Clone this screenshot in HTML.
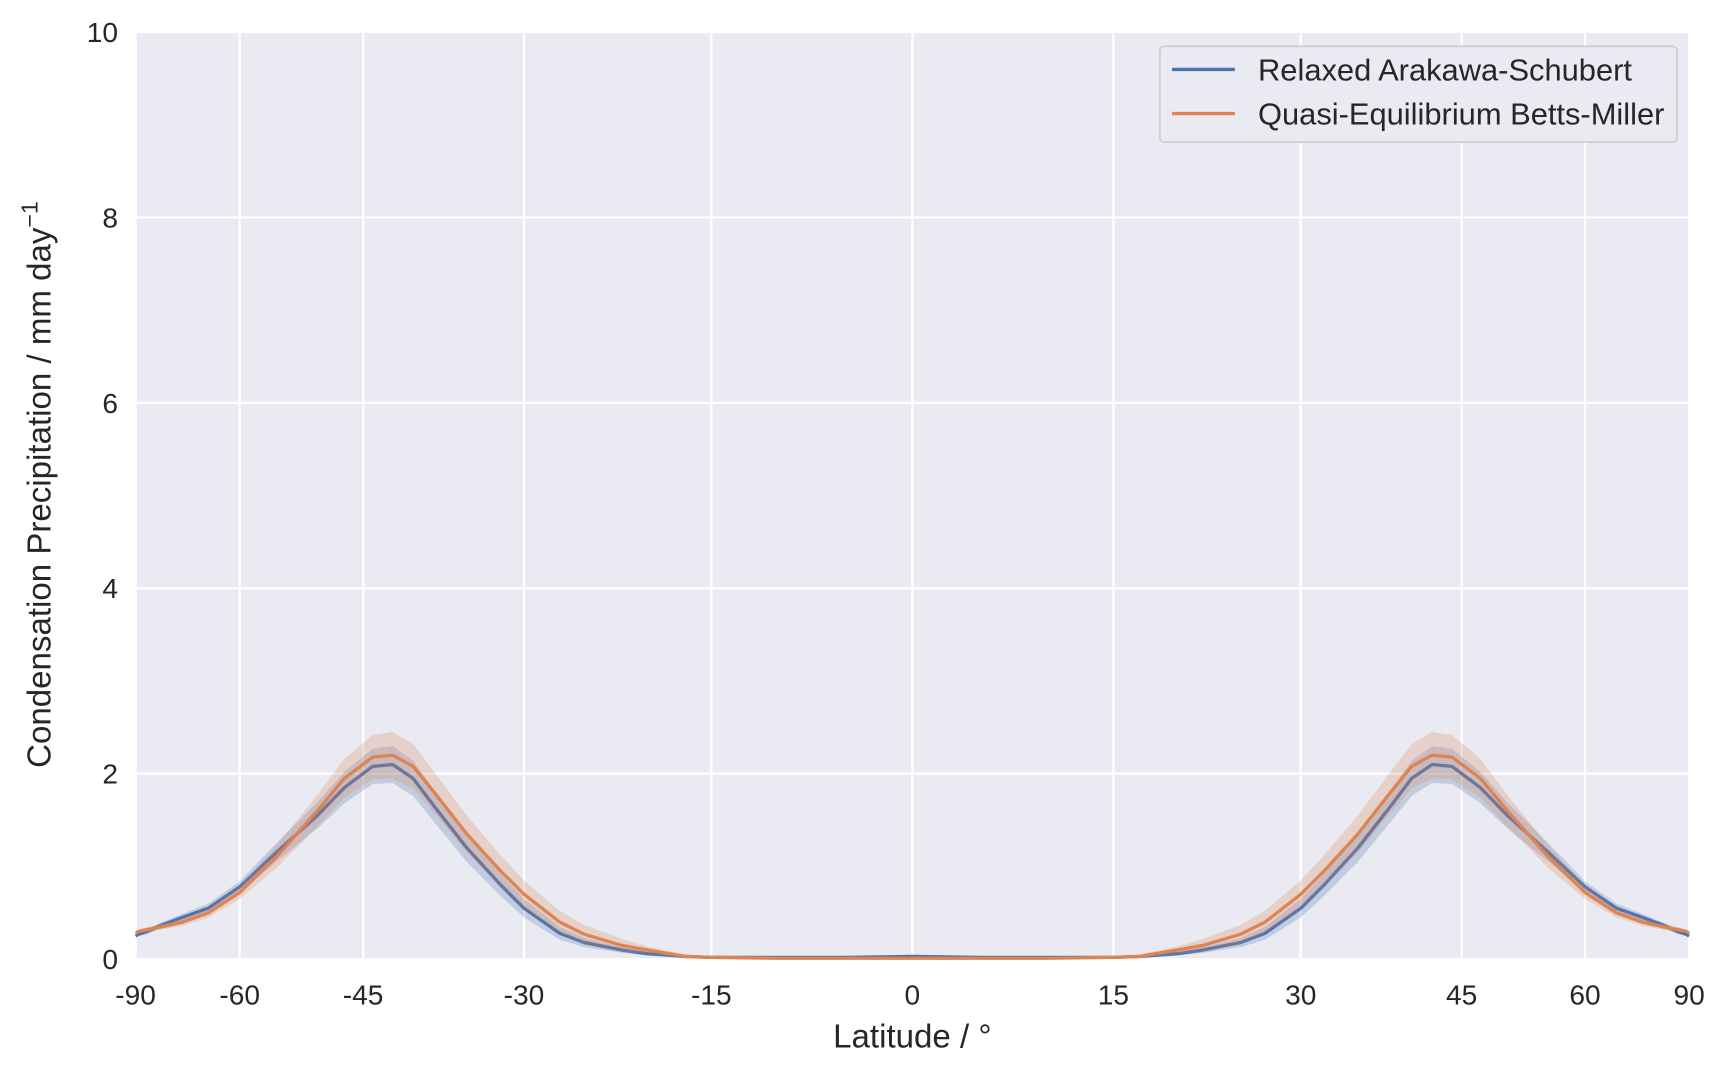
<!DOCTYPE html>
<html><head><meta charset="utf-8"><style>
body{margin:0;background:#fff;font-family:"Liberation Sans",sans-serif;}
svg{display:block;}
</style></head><body>
<svg id="chart" width="1720" height="1071" viewBox="0 0 1560 971.4" xmlns="http://www.w3.org/2000/svg" font-family="Liberation Sans, sans-serif"></svg>
<script>
const lats = [-90,-85,-80,-75,-70,-65,-60,-55,-50,-47,-44,-42,-40,-38,-35,-32,-30,-27,-25,-22,-20,-17,-15,-10,-5,0,5,10,15,17,20,22,25,27,30,32,35,38,40,42,44,47,50,55,60,65,70,75,80,85,90];
const blueVals = [0.25,0.27,0.3,0.37,0.45,0.55,0.78,1.15,1.55,1.85,2.08,2.1,1.95,1.65,1.2,0.8,0.55,0.28,0.18,0.1,0.06,0.03,0.02,0.02,0.02,0.03,0.02,0.02,0.02,0.03,0.06,0.1,0.18,0.28,0.55,0.8,1.2,1.65,1.95,2.1,2.08,1.85,1.55,1.15,0.78,0.55,0.45,0.37,0.3,0.27,0.25];
const orangeVals = [0.28,0.3,0.32,0.35,0.4,0.5,0.72,1.1,1.6,1.95,2.18,2.2,2.08,1.8,1.35,0.95,0.7,0.4,0.27,0.15,0.1,0.03,0.02,0.01,0.01,0.01,0.01,0.01,0.02,0.03,0.1,0.15,0.27,0.4,0.7,0.95,1.35,1.8,2.08,2.2,2.18,1.95,1.6,1.1,0.72,0.5,0.4,0.35,0.32,0.3,0.28];
const blueErr = [0.02,0.02,0.03,0.03,0.04,0.05,0.06,0.1,0.14,0.17,0.19,0.2,0.19,0.17,0.15,0.12,0.1,0.07,0.05,0.03,0.02,0.01,0.01,0.01,0.01,0.01,0.01,0.01,0.01,0.01,0.02,0.03,0.05,0.07,0.1,0.12,0.15,0.17,0.19,0.2,0.19,0.17,0.14,0.1,0.06,0.05,0.04,0.03,0.03,0.02,0.02];
const orangeErr = [0.02,0.02,0.03,0.03,0.04,0.05,0.07,0.12,0.17,0.21,0.24,0.25,0.24,0.22,0.2,0.17,0.15,0.12,0.1,0.07,0.04,0.02,0.01,0.01,0.01,0.01,0.01,0.01,0.01,0.02,0.04,0.07,0.1,0.12,0.15,0.17,0.2,0.22,0.24,0.25,0.24,0.21,0.17,0.12,0.07,0.05,0.04,0.03,0.03,0.02,0.02];
const xTicks = [-90,-60,-45,-30,-15,0,15,30,45,60,90];
const yTicks = [0,2,4,6,8,10];

const svg = document.getElementById('chart');
const NS = 'http://www.w3.org/2000/svg';
const L=123,R=1532,T=29,B=870;
const xs = v => (L+R)/2 + Math.sin(v*Math.PI/180)*(R-L)/2;
const ys = v => B - v*(B-T)/10;
function mk(tag, attrs, parent){const e=document.createElementNS(NS,tag);for(const k in attrs)e.setAttribute(k,attrs[k]);(parent||svg).appendChild(e);return e;}

const bg = mk('rect',{x:L,y:T,width:R-L,height:B-T,fill:'#eaeaf2'});


xTicks.forEach(t=>{
  const g=mk('line',{x1:xs(t),x2:xs(t),y1:T,y2:B,stroke:'#fff','stroke-width':2});
  
  
  const tx=mk('text',{x:xs(t),y:B+41,'text-anchor':'middle','font-size':25.5,fill:'#262626'});
  tx.textContent=String(t);
  
  
});
yTicks.forEach(t=>{
  const g=mk('line',{x1:L,x2:R,y1:ys(t),y2:ys(t),stroke:'#fff','stroke-width':2});
  
  
  const tx=mk('text',{x:L-16,y:ys(t)+9,'text-anchor':'end','font-size':25.5,fill:'#262626'});
  tx.textContent=String(t);
  
  
});
function series(vals, err, color, name){
  let up=lats.map((l,i)=>xs(l)+','+ys(vals[i]+err[i]));
  let lo=lats.map((l,i)=>xs(l)+','+ys(Math.max(0,vals[i]-err[i]))).reverse();
  const band=mk('polygon',{points:up.concat(lo).join(' '),fill:color,'fill-opacity':0.25});
  
  
  const line=mk('polyline',{points:lats.map((l,i)=>xs(l)+','+ys(vals[i])).join(' '),fill:'none',stroke:color,'stroke-width':3,'stroke-linejoin':'round'});
  
  
}
series(blueVals,blueErr,'#4c72b0','ras');
series(orangeVals,orangeErr,'#dd8452','qebm');

const xl=mk('text',{x:(L+R)/2,y:B+80,'text-anchor':'middle','font-size':30,fill:'#262626'});
xl.textContent='Latitude / °';


const yl=mk('text',{x:0,y:0,'text-anchor':'middle','font-size':30,fill:'#262626',transform:`translate(46,${(T+B)/2-10}) rotate(-90)`});
yl.innerHTML='Condensation Precipitation / mm day<tspan dy="-12" font-size="21">−1</tspan>';



const lg=mk('g',{});


mk('rect',{x:1052,y:42,width:469,height:87,rx:4,fill:'#eaeaf2',stroke:'#cccccc','stroke-width':1.5},lg);
[['Relaxed Arakawa-Schubert','#4c72b0',73],['Quasi-Equilibrium Betts-Miller','#dd8452',113]].forEach(([n,c,y])=>{
  const e=mk('g',{},lg);
  
  
  mk('line',{x1:1063,x2:1120,y1:y-10,y2:y-10,stroke:c,'stroke-width':3},e);
  const t=mk('text',{x:1141,y:y,'font-size':28,fill:'#262626'},e);
  t.textContent=n;
});
</script>
</body></html>
